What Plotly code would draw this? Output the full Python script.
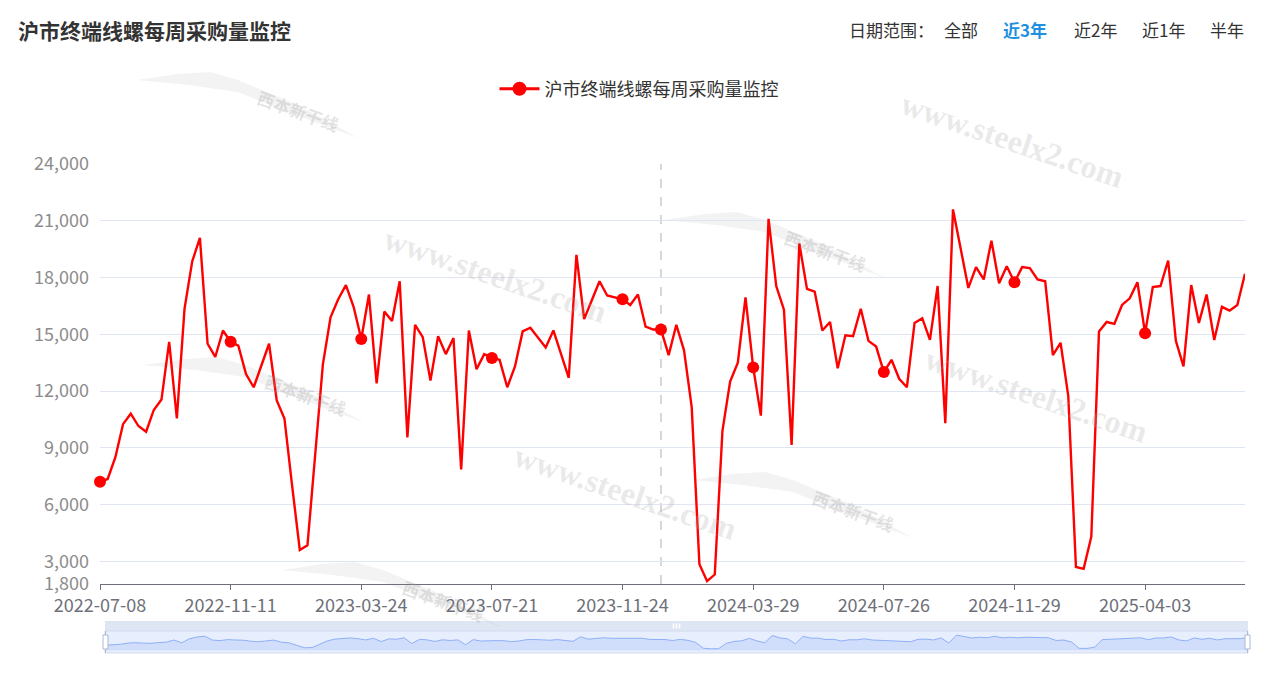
import plotly.graph_objects as go

# ---- data ---------------------------------------------------------------
TITLE = "沪市终端线螺每周采购量监控"

weeks_2022 = ["07-08", "07-15", "07-22", "07-29", "08-05", "08-12", "08-19", "08-26",
              "09-02", "09-09", "09-16", "09-23", "09-30", "10-14", "10-21", "10-28",
              "11-04", "11-11", "11-18", "11-25", "12-02", "12-09", "12-16", "12-23", "12-30"]
weeks_2023 = ["01-06", "01-13", "01-20", "02-10", "02-17", "02-24", "03-03", "03-10",
              "03-17", "03-24", "03-31", "04-07", "04-14", "04-21", "04-28", "05-05",
              "05-12", "05-19", "05-26", "06-02", "06-09", "06-16", "06-23", "06-30",
              "07-07", "07-14", "07-21", "07-28", "08-04", "08-11", "08-18", "08-25",
              "09-01", "09-08", "09-15", "09-22", "09-29", "10-13", "10-20", "10-27",
              "11-03", "11-10", "11-17", "11-24", "12-01", "12-08", "12-15", "12-22", "12-29"]
weeks_2024 = ["01-05", "01-12", "01-19", "01-26", "02-02", "02-09", "02-23", "03-01",
              "03-08", "03-15", "03-22", "03-29", "04-03", "04-12", "04-19", "04-26",
              "04-30", "05-10", "05-17", "05-24", "05-31", "06-07", "06-14", "06-21",
              "06-28", "07-05", "07-12", "07-19", "07-26", "08-02", "08-09", "08-16",
              "08-23", "08-30", "09-06", "09-13", "09-20", "09-27", "10-11", "10-18",
              "10-25", "11-01", "11-08", "11-15", "11-22", "11-29", "12-06", "12-13",
              "12-20", "12-27"]
weeks_2025 = ["01-03", "01-10", "01-17", "01-24", "02-07", "02-14", "02-21", "02-28",
              "03-07", "03-14", "03-21", "03-28", "04-03", "04-11", "04-18", "04-25",
              "04-30", "05-09", "05-16", "05-23", "05-30", "06-06", "06-13", "06-20",
              "06-27", "07-04"]

dates = ([f"2022-{d}" for d in weeks_2022] + [f"2023-{d}" for d in weeks_2023]
         + [f"2024-{d}" for d in weeks_2024] + [f"2025-{d}" for d in weeks_2025])

volume = [7200, 7350, 8500, 10250, 10800, 10150, 9850, 11000, 11550, 14600,
          10550, 16350, 18850, 20100, 14500, 13800, 15200, 14600, 14400, 12900,
          12200, 13300, 14500, 11500, 10550, 7000, 3600, 3850, 8600, 13400,
          15900, 16850, 17600, 16450, 14750, 17100, 12400, 16200, 15700, 17800,
          9550, 15500, 14850, 12550, 14900, 13950, 14800, 7850, 15200, 13150,
          13950, 13750, 13650, 12200, 13300, 15150, 15350, 14850, 14300, 15200,
          13950, 12700, 19200, 15800, 16800, 17800, 17050, 16950, 16850, 16550,
          17100, 15400, 15250, 15250, 13900, 15500, 14150, 11150, 2850, 1950,
          2300, 9900, 12500, 13500, 16950, 13250, 10700, 21100, 17550, 16300,
          9150, 19800, 17400, 17250, 15200, 15650, 13200, 14950, 14900, 16350,
          14650, 14350, 13000, 13650, 12650, 12200, 15600, 15850, 14700, 17550,
          10300, 21600, 19600, 17450, 18550, 17900, 19950, 17700, 18600, 17750,
          18550, 18500, 17900, 17800, 13900, 14550, 11750, 2700, 2600, 4300,
          15150, 15650, 15550, 16550, 16900, 17750, 15050, 17500, 17550, 18900,
          14650, 13300, 17600, 15600, 17100, 14700, 16450, 16250, 16550, 18200]

y_ticks = [1800, 3000, 6000, 9000, 12000, 15000, 18000, 21000, 24000]
label_step = 17          # one axis label every 17 weeks
pointer_idx = 73         # week under the axis pointer
range_buttons = ["全部", "近3年", "近2年", "近1年", "半年"]
active_button = "近3年"

# ---- helpers ------------------------------------------------------------
W, H = 1266, 675
FONT = "Microsoft YaHei, Noto Sans CJK SC, sans-serif"


def px(x):
    return x / W


def py(y):
    return 1 - y / H


label_idx = list(range(0, len(dates), label_step))
marker_idx = label_idx + [pointer_idx]

fig = go.Figure()

# main series line
fig.add_trace(go.Scatter(
    x=dates, y=volume, mode="lines", showlegend=False, cliponaxis=False,
    line=dict(color="#ff0000", width=2.4), hoverinfo="skip",
    xaxis="x", yaxis="y"))

# symbols shown at the labelled weeks and the pointed week
fig.add_trace(go.Scatter(
    x=[dates[i] for i in marker_idx], y=[volume[i] for i in marker_idx],
    mode="markers", showlegend=False, hoverinfo="skip", cliponaxis=False,
    marker=dict(color="#ff0000", size=12), xaxis="x", yaxis="y"))

# legend entry
fig.add_trace(go.Scatter(
    x=[None], y=[None], mode="lines+markers", name=TITLE,
    line=dict(color="#ff0000", width=3), marker=dict(color="#ff0000", size=14),
    xaxis="x", yaxis="y"))

# data shadow in the zoom slider
vmin, vmax = min(volume), max(volume)
pad = (vmax - vmin) * 0.3
fig.add_trace(go.Scatter(
    x=list(range(len(volume))), y=volume, mode="lines", showlegend=False,
    hoverinfo="skip", fill="tozeroy", fillcolor="rgba(143,176,247,0.25)",
    line=dict(color="#8fb0f7", width=1), xaxis="x2", yaxis="y2"))

fig.update_layout(
    width=W, height=H,
    margin=dict(l=0, r=0, t=0, b=0, autoexpand=False),
    paper_bgcolor="white", plot_bgcolor="white",
    font=dict(family=FONT, color="#333333"),
    xaxis=dict(
        domain=[px(100), px(1245)], type="category",
        range=[0, len(dates) - 1],
        tickvals=[dates[i] for i in label_idx],
        ticktext=[dates[i] for i in label_idx],
        tickfont=dict(size=18, color="#6e7079", family=FONT),
        showline=True, linecolor="#6e7079", linewidth=1,
        ticks="outside", ticklen=5, tickcolor="#6e7079",
        showgrid=False, zeroline=False, anchor="y", automargin=False,
    ),
    yaxis=dict(
        domain=[py(584), py(164)], range=[y_ticks[0], y_ticks[-1]],
        tickvals=y_ticks, tickformat=",d",
        tickfont=dict(size=18, color="#8c8c8c", family=FONT),
        showgrid=True, gridcolor="#e0e6f1", gridwidth=1,
        zeroline=False, showline=False, ticks="", ticklabelstandoff=10,
        anchor="x", automargin=False,
    ),
    xaxis2=dict(domain=[px(105), px(1248)], range=[0, len(volume) - 1],
                visible=False, anchor="y2", fixedrange=True),
    yaxis2=dict(domain=[py(653), py(631)], range=[vmin - pad, vmax + pad],
                visible=False, anchor="x2", fixedrange=True),
    legend=dict(
        orientation="h", x=px(639), xanchor="center", y=py(89), yanchor="middle",
        font=dict(size=18, color="#333333", family=FONT),
        bgcolor="rgba(0,0,0,0)", itemwidth=40,
    ),
    showlegend=True,
)

shapes = []
# axis pointer
shapes.append(dict(type="line", xref="x", yref="paper", x0=pointer_idx, x1=pointer_idx,
                   y0=py(584), y1=py(164), line=dict(color="#b0b0b0", width=1, dash="dash"),
                   layer="below"))
# slider: move-handle band, selected area and border
shapes.append(dict(type="rect", xref="paper", yref="paper", x0=px(105), x1=px(1248),
                   y0=py(631), y1=py(621), fillcolor="#dfe6f3", line=dict(width=0),
                   layer="below"))
shapes.append(dict(type="rect", xref="paper", yref="paper", x0=px(105), x1=px(1248),
                   y0=py(653), y1=py(631), fillcolor="#e7eefd",
                   line=dict(color="#d2dbee", width=1), layer="below"))
# grip marks on the move-handle band
for dx in (-3, 0, 3):
    shapes.append(dict(type="line", xref="paper", yref="paper", x0=px(676.5 + dx),
                       x1=px(676.5 + dx), y0=py(623.5), y1=py(628.5),
                       line=dict(color="white", width=1.5)))
# slider end handles
for hx in (105.5, 1247.5):
    shapes.append(dict(type="line", xref="paper", yref="paper", x0=px(hx), x1=px(hx),
                       y0=py(653), y1=py(631), line=dict(color="#acb8d1", width=1)))
    shapes.append(dict(type="rect", xref="paper", yref="paper", x0=px(hx - 2.5),
                       x1=px(hx + 2.5), y0=py(649), y1=py(635), fillcolor="white",
                       line=dict(color="#acb8d1", width=1)))


# logo swooshes of the site watermark (offsets from the logo text centre)
swoosh = [(-161, -30), (-120, -36), (-88, -38), (-60, -30), (0, -5), (60, 28),
          (-10, 2), (-60, -18), (-110, -25)]
logo_centres = ((298, 110), (305, 395), (825, 250), (853, 510), (443, 600))
for cx, cy in logo_centres:
    path = "M " + " L ".join(f"{px(cx + dx):.5f},{py(cy + dy):.5f}" for dx, dy in swoosh) + " Z"
    shapes.append(dict(type="path", xref="paper", yref="paper", path=path,
                       fillcolor="rgba(180,180,180,0.16)", line=dict(width=0),
                       layer="below"))
fig.update_layout(shapes=shapes)

annotations = []
# chart title
annotations.append(dict(text=f"<b>{TITLE}</b>", x=px(16), y=py(30), xref="paper",
                        yref="paper", xanchor="left", yanchor="middle", showarrow=False,
                        font=dict(size=21, color="#333333", family=FONT)))
# date range selector
annotations.append(dict(text="日期范围：", x=px(847), y=py(29), xref="paper", yref="paper",
                        xanchor="left", yanchor="middle", showarrow=False,
                        font=dict(size=17, color="#333333", family=FONT)))
for label, cx in zip(range_buttons, (961, 1025, 1095, 1163, 1227)):
    active = label == active_button
    annotations.append(dict(
        text=f"<b>{label}</b>" if active else label, x=px(cx), y=py(29),
        xref="paper", yref="paper", xanchor="center", yanchor="middle",
        showarrow=False,
        font=dict(size=17, color="#1e90e0" if active else "#333333", family=FONT)))

# site watermarks
for cx, cy in ((1012, 140), (495, 275), (625, 492), (1036, 395)):
    annotations.append(dict(text="<b>www.steelx2.com</b>", x=px(cx), y=py(cy),
                            xref="paper", yref="paper", showarrow=False, textangle=19,
                            xanchor="center", yanchor="middle",
                            font=dict(size=32, color="rgba(170,170,170,0.25)",
                                      family="Liberation Serif, serif")))
for cx, cy in logo_centres:
    annotations.append(dict(text="<b>西本新干线</b>", x=px(cx), y=py(cy),
                            xref="paper", yref="paper", showarrow=False, textangle=20,
                            xanchor="center", yanchor="middle",
                            font=dict(size=17, color="rgba(160,160,160,0.3)",
                                      family=FONT)))
fig.update_layout(annotations=annotations)

fig.write_html("out.html")
